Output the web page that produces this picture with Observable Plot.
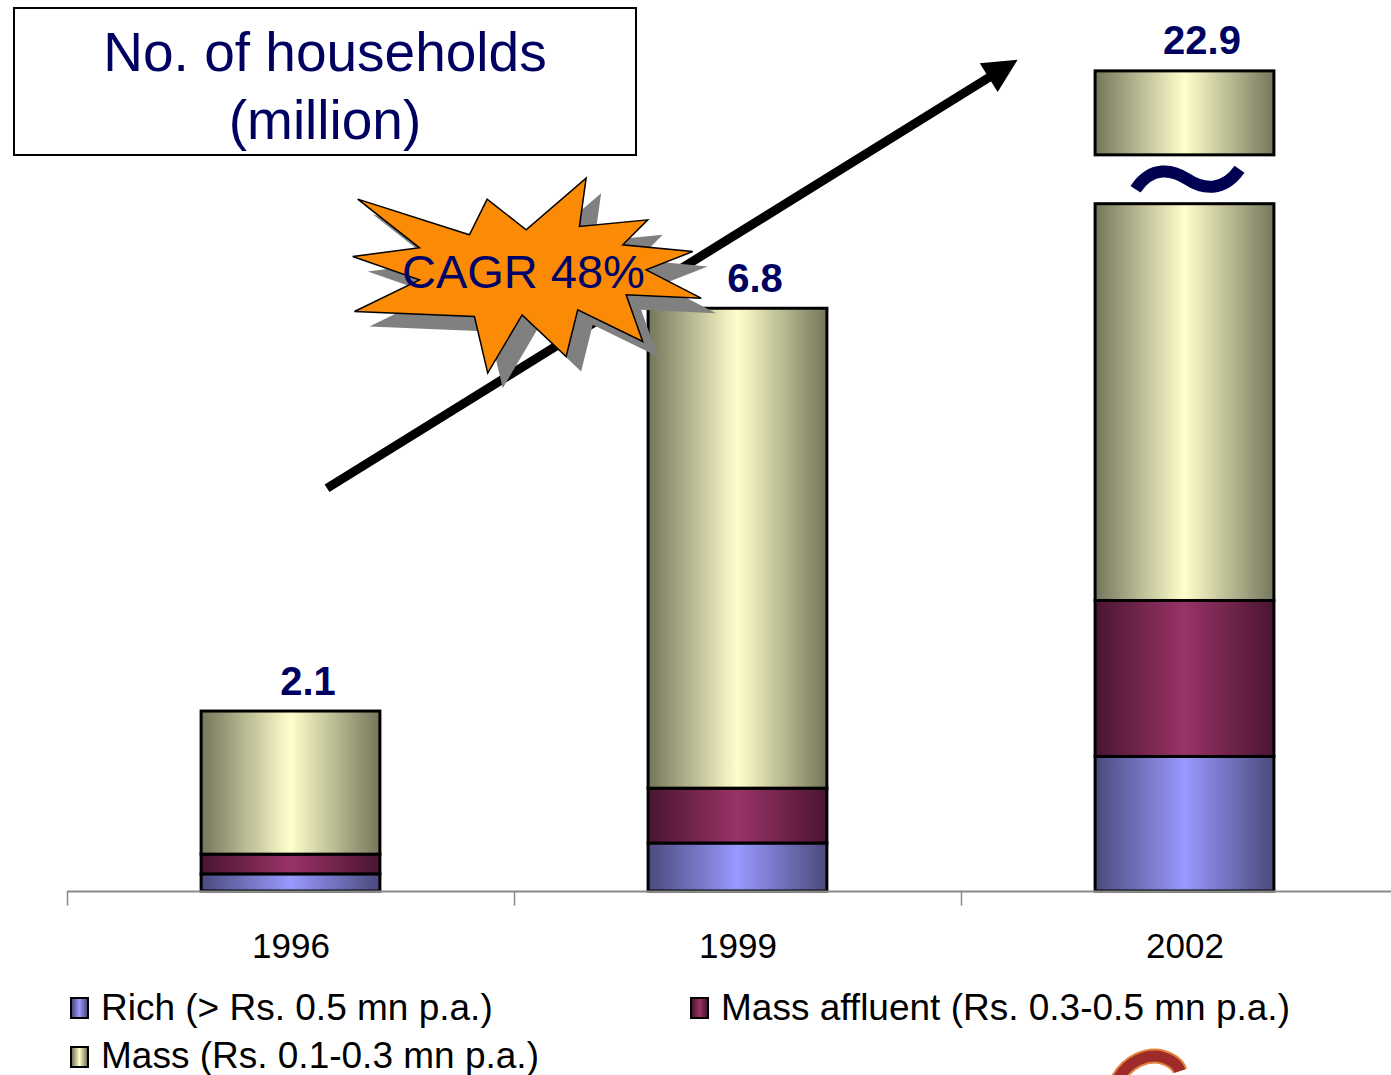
<!DOCTYPE html>
<html>
<head>
<meta charset="utf-8">
<script src="https://cdn.jsdelivr.net/npm/d3@7"></script>
<script src="https://cdn.jsdelivr.net/npm/@observablehq/plot@0.6"></script>
<style>
  body { margin: 0; background: #fff; }
  #wrap { position: relative; width: 1391px; height: 1075px; overflow: hidden;
          font-family: "Liberation Sans", Arial, Helvetica, sans-serif; }
  #title { position: absolute; left: 13px; top: 7px; width: 620px;
           border: 2px solid #000; text-align: center; color: #000060;
           font-size: 55px; line-height: 68px; padding-top: 9px; box-sizing: content-box;
           height: 136px; }
  #legend { position: absolute; left: 0; top: 985px; width: 1391px; height: 90px; }
  .item { position: absolute; font-size: 37px; line-height: 37px; color: #000; white-space: nowrap; }
  .sw { position: absolute; width: 15px; height: 18px; border: 2px solid #000; }
</style>
</head>
<body>
<div id="wrap">
  <div id="chart"></div>
  <div id="title">No. of households<br>(million)</div>
  <div id="legend"></div>
</div>
<script>
// Households by income class (million), India
const years = [1996, 1999, 2002];
const rich = [0.20, 0.56, 1.57];
const massAffluent = [0.23, 0.64, 1.82];
const mass = [1.67, 5.60, 19.51];
const totals = [2.1, 6.8, 22.9];
const seriesNames = ["Rich (> Rs. 0.5 mn p.a.)", "Mass affluent (Rs. 0.3-0.5 mn p.a.)", "Mass (Rs. 0.1-0.3 mn p.a.)"];
const cagrLabel = "CAGR 48%";

// Colour ramps for the shaded (cylinder-like) bars: edge, centre
const shades = {
  rich: ["#4a4a7c", "#9999ff"],
  affluent: ["#4a1532", "#993366"],
  mass: ["#75755b", "#ffffcc"]
};

// Broken value axis: the range between breakLo and breakHi is cut out
const breakLo = 8.02, breakHi = 21.92, breakGap = 0.57;
const brk = v => v >= breakHi ? v - (breakHi - breakLo) + breakGap : v;

const series = [
  {key: "rich", name: seriesNames[0], values: rich},
  {key: "affluent", name: seriesNames[1], values: massAffluent},
  {key: "mass", name: seriesNames[2], values: mass}
];

// Stack the segments, splitting any segment that crosses the break
const segments = [];
years.forEach((year, i) => {
  let base = 0;
  for (const s of series) {
    const top = base + s.values[i];
    if (base < breakLo && top > breakHi) {
      segments.push({year, key: s.key, y1: base, y2: breakLo});
      segments.push({year, key: s.key, y1: breakHi, y2: top});
    } else {
      segments.push({year, key: s.key, y1: base, y2: top});
    }
    base = top;
  }
});
const labels = years.map((year, i) => ({year, total: totals[i]}));

// Gradient definitions
const defsMark = () => {
  const g = d3.create("svg:g");
  const defs = g.append("defs");
  for (const [key, [edge, mid]] of Object.entries(shades)) {
    const lg = defs.append("linearGradient").attr("id", `grad-${key}`)
      .attr("x1", 0).attr("x2", 1).attr("y1", 0).attr("y2", 0);
    lg.append("stop").attr("offset", 0).attr("stop-color", edge);
    lg.append("stop").attr("offset", 0.5).attr("stop-color", mid);
    lg.append("stop").attr("offset", 1).attr("stop-color", edge);
  }
  return g.node();
};

// Growth arrow, starburst callout and the axis-break tilde
const arrowFrom = [1996.245, 4.70], arrowTo = [2000.88, 9.70];
const burstAt = [1997.57, 7.19];
const burstShape = [
  [-166.7,-75.7],[-55,-40],[-37.3,-75.7],[1.7,-45],[61.7,-96.7],[55,-48.3],
  [123.3,-55],[98.3,-30],[168.3,-23.3],[121.7,-5],[176.7,23.3],[101.7,20],
  [118.3,66.7],[53.3,35],[41.7,81.7],[-2.3,40],[-36.7,98.3],[-50,41.7],
  [-170,36.7],[-105,5],[-171.7,-18.3],[-105,-27]
];
const annotationMark = (index, scales) => {
  const X = scales.x, Y = scales.y;
  const g = d3.create("svg:g");
  // arrow
  const x1 = X(arrowFrom[0]), y1 = Y(arrowFrom[1]);
  const x2 = X(arrowTo[0]), y2 = Y(arrowTo[1]);
  const a = Math.atan2(y2 - y1, x2 - x1);
  const headLen = 34, headHalf = 17;
  const bx = x2 - headLen * Math.cos(a), by = y2 - headLen * Math.sin(a);
  g.append("line").attr("x1", x1).attr("y1", y1).attr("x2", bx + 4 * Math.cos(a)).attr("y2", by + 4 * Math.sin(a))
    .attr("stroke", "#000").attr("stroke-width", 9);
  const px = -Math.sin(a), py = Math.cos(a);
  g.append("path")
    .attr("d", `M${x2},${y2}L${bx + headHalf * px},${by + headHalf * py}L${bx - headHalf * px},${by - headHalf * py}Z`)
    .attr("fill", "#000");
  // starburst with drop shadow
  const cx = X(burstAt[0]), cy = Y(burstAt[1]);
  const poly = (dx, dy) => "M" + burstShape.map(([u, v]) => `${cx + u + dx},${cy + v + dy}`).join("L") + "Z";
  g.append("path").attr("d", poly(15, 15)).attr("fill", "#808080");
  g.append("path").attr("d", poly(0, 0)).attr("fill", "#fb8a05").attr("stroke", "#000").attr("stroke-width", 1.5);
  g.append("text").attr("x", cx - 1).attr("y", cy + 13).attr("text-anchor", "middle")
    .attr("font-size", 47).attr("fill", "#000066").text(cagrLabel);
  // tilde marking the axis break on the 2002 bar
  const tx = X(years[2]) + 3, ty = Y((breakLo + brk(breakHi)) / 2);
  g.append("path")
    .attr("d", `M${tx - 52},${ty + 10}C${tx - 36},${ty - 14} ${tx - 15},${ty - 10} ${tx},${ty}C${tx + 15},${ty + 10} ${tx + 36},${ty + 13} ${tx + 52},${ty - 10}`)
    .attr("fill", "none").attr("stroke", "#000050").attr("stroke-width", 12);
  return g.node();
};

const chart = Plot.plot({
  width: 1391,
  height: 985,
  marginTop: 0,
  marginLeft: 67,
  marginRight: 0,
  marginBottom: 94,
  style: {fontFamily: '"Liberation Sans", Arial, sans-serif', background: "transparent", overflow: "visible"},
  x: {type: "linear", domain: [1994.5, 2003.5], range: [67, 1408], axis: null},
  y: {domain: [0, 10.397], transform: brk, axis: null},
  color: {type: "identity"},
  marks: [
    defsMark,
    Plot.rect(segments, {
      x1: d => d.year - 0.6, x2: d => d.year + 0.6, y1: "y1", y2: "y2",
      fill: d => `url(#grad-${d.key})`, stroke: "#000", strokeWidth: 3
    }),
    Plot.ruleY([0], {stroke: "#8a8a8a", strokeWidth: 2}),
    Plot.ruleX([1994.5, 1997.5, 2000.5], {y1: 0, y2: -0.17, stroke: "#8a8a8a", strokeWidth: 1.5}),
    Plot.axisX(years, {label: null, tickSize: 0, tickPadding: 42, fontSize: 35, tickFormat: d => String(d), fill: "#000"}),
    Plot.text(labels, {
      x: "year", y: "total", text: d => d.total.toFixed(1),
      dx: 17, dy: -17, lineAnchor: "bottom", fontSize: 40, fontWeight: "bold", fill: "#000060"
    }),
    annotationMark
  ]
});
document.getElementById("chart").appendChild(chart);

// Legend
const legend = document.getElementById("legend");
const legendPos = [
  {key: "rich", sx: 70, sy: 12, tx: 101, ty: 4},
  {key: "affluent", sx: 690, sy: 12, tx: 721, ty: 4},
  {key: "mass", sx: 70, sy: 61, tx: 101, ty: 52}
];
legendPos.forEach((p, i) => {
  const [edge, mid] = shades[p.key];
  const sw = document.createElement("div");
  sw.className = "sw";
  sw.style.left = p.sx + "px";
  sw.style.top = p.sy + "px";
  sw.style.background = `linear-gradient(to right, ${edge}, ${mid} 50%, ${edge})`;
  legend.appendChild(sw);
  const t = document.createElement("div");
  t.className = "item";
  t.style.left = p.tx + "px";
  t.style.top = p.ty + "px";
  t.textContent = series[i].name;
  legend.appendChild(t);
});

// Corner of the company mark, partly visible at the page foot
const logo = d3.select(legend).append("svg")
  .attr("width", 120).attr("height", 40)
  .style("position", "absolute").style("left", "1100px").style("top", "60px");
logo.append("path").attr("d", "M18,34 C28,16 48,8 62,12 C72,15 78,20 80,26")
  .attr("fill", "none").attr("stroke", "#e0823a").attr("stroke-width", 15);
logo.append("path").attr("d", "M18,34 C28,16 48,8 62,12 C72,15 78,20 80,26")
  .attr("fill", "none").attr("stroke", "#9e2a2a").attr("stroke-width", 11);
</script>
</body>
</html>
